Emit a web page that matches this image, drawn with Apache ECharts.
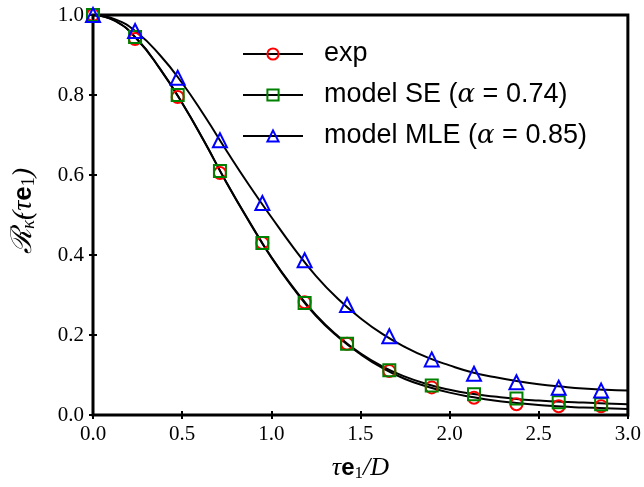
<!DOCTYPE html>
<html>
<head>
<meta charset="utf-8">
<script src="https://cdn.jsdelivr.net/npm/echarts@6/dist/echarts.min.js"></script>
<style>
html,body{margin:0;padding:0;background:#fff;}
#chart{width:644px;height:487px;}
</style>
</head>
<body>
<div id="chart"></div>
<script>
// Marker data
const markerX = [0.0, 0.236, 0.475, 0.712, 0.95, 1.187, 1.425, 1.662, 1.9, 2.137, 2.375, 2.612, 2.85];
const expVals = [1.0, 0.94, 0.795, 0.605, 0.43, 0.282, 0.178, 0.11, 0.069, 0.043, 0.027, 0.022, 0.022];
const seVals  = [1.0, 0.945, 0.80, 0.61, 0.43, 0.28, 0.178, 0.112, 0.074, 0.052, 0.041, 0.032, 0.027];
const mleVals = [1.0, 0.96, 0.843, 0.687, 0.53, 0.387, 0.275, 0.197, 0.139, 0.103, 0.082, 0.068, 0.061];

// Curve data (continuous model lines)
const curveX   = [0.0, 0.125, 0.25, 0.375, 0.5, 0.625, 0.75, 0.875, 1.0, 1.125, 1.25, 1.375, 1.5,
                  1.625, 1.75, 1.875, 2.0, 2.125, 2.25, 2.375, 2.5, 2.625, 2.75, 2.875, 3.0];
const expCurve = [1.0, 0.985, 0.938, 0.866, 0.78, 0.683, 0.58, 0.484, 0.394, 0.316, 0.248, 0.195, 0.152,
                  0.117, 0.090, 0.071, 0.056, 0.045, 0.036, 0.030, 0.025, 0.021, 0.019, 0.017, 0.015];
const seCurve  = [1.0, 0.985, 0.938, 0.866, 0.78, 0.683, 0.58, 0.485, 0.395, 0.318, 0.25, 0.197, 0.154,
                  0.121, 0.096, 0.077, 0.063, 0.053, 0.046, 0.040, 0.036, 0.033, 0.031, 0.029, 0.027];
const mleCurve = [1.0, 0.989, 0.955, 0.90, 0.83, 0.748, 0.66, 0.575, 0.495, 0.418, 0.348, 0.29, 0.242,
                  0.202, 0.17, 0.144, 0.124, 0.107, 0.095, 0.085, 0.077, 0.071, 0.066, 0.063, 0.061];

const xTicks = [0.0, 0.5, 1.0, 1.5, 2.0, 2.5, 3.0];
const yTicks = [0.0, 0.2, 0.4, 0.6, 0.8, 1.0];

const names = ['exp', 'model SE (α = 0.74)', 'model MLE (α = 0.85)'];
const colors = ['#ff0000', '#008000', '#0000ff'];
const symbols = ['circle', 'rect', 'triangle'];
const curves = [expCurve, seCurve, mleCurve];
const points = [expVals, seVals, mleVals];

const pair = (xs, ys) => xs.map((x, i) => [x, ys[i]]);

const series = [];
for (let k = 0; k < 3; k++) {
  series.push({
    name: names[k],
    type: 'line',
    data: pair(curveX, curves[k]),
    smooth: true,
    showSymbol: false,
    symbol: symbols[k],
    symbolSize: 11,
    lineStyle: { color: '#000', width: 2 },
    itemStyle: { color: 'rgba(255,255,255,0)', borderColor: colors[k], borderWidth: 2 },
    emphasis: { disabled: true },
    z: 2,
    silent: true
  });
}
for (let k = 0; k < 3; k++) {
  series.push({
    name: names[k] + ' pts',
    type: 'scatter',
    data: pair(markerX, points[k]),
    symbol: symbols[k],
    symbolSize: symbols[k] === 'triangle' ? 14 : 12,
    itemStyle: { color: 'rgba(255,255,255,0)', borderColor: colors[k], borderWidth: 2, opacity: 1 },
    emphasis: { disabled: true },
    z: 3 + k,
    silent: true
  });
}

const serif = 'Liberation Serif';
const fmt = v => Number(v).toFixed(1);

const chart = echarts.init(document.getElementById('chart'), null, { renderer: 'canvas' });
chart.setOption({
  backgroundColor: '#fff',
  animation: false,
  grid: { left: 93, right: 16, top: 15, bottom: 70, show: true, borderColor: '#000', borderWidth: 3, backgroundColor: 'transparent' },
  legend: {
    data: names,
    orient: 'vertical',
    left: 237,
    top: 35,
    itemWidth: 60,
    itemHeight: 14,
    itemGap: 13,
    lineStyle: { color: '#000', width: 2 },
    textStyle: {
      fontFamily: 'Liberation Sans', fontSize: 27, color: '#000', lineHeight: 28, padding: [0, 0, 0, 16],
      rich: {
        t: { fontFamily: 'Liberation Sans', fontSize: 27, color: '#000', lineHeight: 28 },
        a: { fontFamily: 'DejaVu Serif', fontStyle: 'italic', fontSize: 26, color: '#000', lineHeight: 28 }
      }
    },
    formatter: name => {
      const m = name.match(/^(.*\()α( = .*)$/);
      if (m) return '{t|' + m[1] + '}{a|α}{t|' + m[2] + '}';
      return '{t|' + name + '}';
    },
    selectedMode: false
  },
  xAxis: [{
    type: 'value', min: 0, max: 3, interval: 0.5,
    axisLine: { show: false },
    axisTick: { show: true, inside: true, length: 4, lineStyle: { color: '#000', width: 2 } },
    splitLine: { show: false },
    axisLabel: { fontFamily: serif, fontSize: 21, color: '#000', margin: 9, formatter: fmt, customValues: xTicks },
    name: '{i|τ}{b|e}{s|1}{i|/D}',
    nameLocation: 'middle',
    nameGap: 40,
    nameTextStyle: {
      rich: {
        i: { fontFamily: serif, fontStyle: 'italic', fontSize: 26, color: '#000' },
        b: { fontFamily: 'Liberation Sans', fontWeight: 'bold', fontSize: 24, color: '#000' },
        s: { fontFamily: serif, fontSize: 17, color: '#000', verticalAlign: 'bottom', padding: [10, 0, 0, 0] }
      }
    }
  }, {
    type: 'value', min: 0, max: 3, interval: 0.5, position: 'top',
    axisLine: { show: false },
    axisTick: { show: true, inside: true, length: 4, lineStyle: { color: '#000', width: 2 } },
    axisLabel: { show: false }, splitLine: { show: false }
  }],
  yAxis: [{
    type: 'value', min: 0, max: 1, interval: 0.2,
    axisLine: { show: false },
    axisTick: { show: true, inside: true, length: 4, lineStyle: { color: '#000', width: 2 } },
    splitLine: { show: false },
    axisLabel: { fontFamily: serif, fontSize: 21, color: '#000', margin: 9, formatter: fmt, customValues: yTicks },
    name: '{r|ℛ}{s|κ̃}{p|(τ}{b|e}{s2|1}{p|)}',
    nameLocation: 'middle',
    nameGap: 55,
    nameRotate: 90,
    nameTextStyle: {
      padding: [0, 0, 0, 8],
      rich: {
        r: { fontFamily: 'DejaVu Serif', fontStyle: 'italic', fontSize: 29, color: '#000' },
        s: { fontFamily: serif, fontStyle: 'italic', fontSize: 19, color: '#000', verticalAlign: 'bottom' },
        p: { fontFamily: serif, fontStyle: 'italic', fontSize: 28, color: '#000' },
        b: { fontFamily: 'Liberation Sans', fontWeight: 'bold', fontSize: 26, color: '#000' },
        s2: { fontFamily: serif, fontSize: 18, color: '#000', verticalAlign: 'bottom' }
      }
    }
  }, {
    type: 'value', min: 0, max: 1, interval: 0.2, position: 'right',
    axisLine: { show: false },
    axisTick: { show: true, inside: true, length: 4, lineStyle: { color: '#000', width: 2 } },
    axisLabel: { show: false }, splitLine: { show: false }
  }],
  series: series
});
</script>
</body>
</html>
